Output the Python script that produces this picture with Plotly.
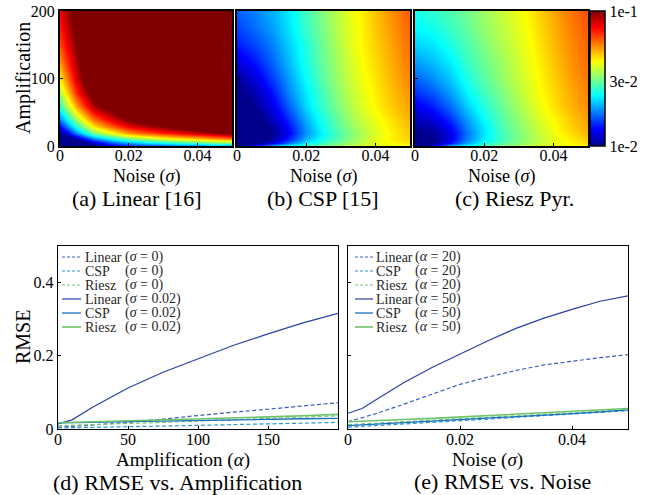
import numpy as np
import plotly.graph_objects as go

# ---------------- heatmap data (log10 of RMSE), rows = amplification, cols = noise
noise_grid = [0.0, 0.005, 0.01, 0.015, 0.02, 0.025, 0.03, 0.035, 0.04, 0.045, 0.05]
amp_grid = [0, 5, 10, 20, 30, 40, 60, 80, 100, 125, 150, 175, 200]

log10_rmse_linear = [
    [-2.40, -2.22, -2.05, -1.90, -1.85, -1.82, -1.80, -1.77, -1.77, -1.74, -1.74],
    [-2.34, -2.13, -1.93, -1.80, -1.72, -1.67, -1.63, -1.59, -1.57, -1.53, -1.50],
    [-2.22, -1.97, -1.76, -1.63, -1.53, -1.47, -1.42, -1.38, -1.34, -1.30, -1.26],
    [-2.01, -1.73, -1.50, -1.38, -1.27, -1.21, -1.16, -1.11, -1.07, -1.02, -0.98],
    [-1.86, -1.57, -1.34, -1.21, -1.10, -1.04, -0.99, -0.94, -0.90, -0.85, -0.80],
    [-1.74, -1.45, -1.22, -1.09, -0.98, -0.92, -0.86, -0.82, -0.77, -0.72, -0.68],
    [-1.57, -1.27, -1.04, -0.92, -0.80, -0.75, -0.69, -0.64, -0.60, -0.55, -0.51],
    [-1.45, -1.15, -0.92, -0.80, -0.68, -0.62, -0.57, -0.52, -0.47, -0.43, -0.38],
    [-1.36, -1.08, -0.84, -0.70, -0.59, -0.52, -0.47, -0.42, -0.38, -0.33, -0.28],
    [-1.27, -1.03, -0.81, -0.60, -0.49, -0.43, -0.37, -0.32, -0.28, -0.23, -0.19],
    [-1.20, -0.99, -0.78, -0.52, -0.41, -0.35, -0.29, -0.24, -0.20, -0.15, -0.11],
    [-1.15, -0.96, -0.75, -0.46, -0.34, -0.28, -0.23, -0.18, -0.13, -0.09, -0.04],
    [-1.11, -0.93, -0.73, -0.40, -0.28, -0.22, -0.17, -0.12, -0.08, -0.03, 0.02],
]

log10_rmse_csp = [
    [-2.10, -1.85, -1.68, -1.60, -1.54, -1.50, -1.46, -1.43, -1.41, -1.39, -1.38],
    [-2.10, -2.02, -1.90, -1.76, -1.64, -1.56, -1.50, -1.45, -1.40, -1.37, -1.35],
    [-2.12, -2.07, -1.98, -1.84, -1.70, -1.60, -1.53, -1.46, -1.40, -1.36, -1.33],
    [-2.12, -2.08, -2.00, -1.88, -1.73, -1.62, -1.54, -1.47, -1.41, -1.36, -1.32],
    [-2.10, -2.06, -1.98, -1.86, -1.72, -1.60, -1.52, -1.45, -1.40, -1.35, -1.31],
    [-2.08, -2.04, -1.95, -1.83, -1.70, -1.59, -1.51, -1.44, -1.39, -1.34, -1.30],
    [-2.05, -2.00, -1.90, -1.78, -1.66, -1.56, -1.49, -1.42, -1.37, -1.32, -1.28],
    [-2.02, -1.96, -1.86, -1.74, -1.64, -1.55, -1.47, -1.41, -1.36, -1.31, -1.27],
    [-1.98, -1.92, -1.82, -1.72, -1.62, -1.53, -1.46, -1.40, -1.35, -1.30, -1.25],
    [-1.92, -1.86, -1.78, -1.69, -1.60, -1.52, -1.45, -1.39, -1.34, -1.29, -1.24],
    [-1.85, -1.81, -1.75, -1.67, -1.59, -1.51, -1.44, -1.38, -1.33, -1.28, -1.23],
    [-1.81, -1.77, -1.72, -1.65, -1.57, -1.50, -1.43, -1.38, -1.32, -1.27, -1.22],
    [-1.78, -1.75, -1.70, -1.64, -1.56, -1.49, -1.43, -1.37, -1.32, -1.26, -1.21],
]

log10_rmse_riesz = [
    [-2.08, -1.90, -1.70, -1.60, -1.54, -1.50, -1.46, -1.43, -1.40, -1.38, -1.37],
    [-2.06, -2.00, -1.86, -1.71, -1.61, -1.54, -1.49, -1.44, -1.40, -1.37, -1.34],
    [-2.05, -2.01, -1.90, -1.75, -1.64, -1.56, -1.50, -1.45, -1.40, -1.36, -1.32],
    [-2.02, -1.99, -1.90, -1.76, -1.65, -1.56, -1.50, -1.44, -1.39, -1.34, -1.30],
    [-1.98, -1.96, -1.87, -1.74, -1.64, -1.55, -1.49, -1.43, -1.38, -1.33, -1.29],
    [-1.95, -1.92, -1.83, -1.72, -1.62, -1.54, -1.48, -1.42, -1.37, -1.32, -1.28],
    [-1.89, -1.85, -1.77, -1.67, -1.59, -1.52, -1.46, -1.40, -1.35, -1.30, -1.26],
    [-1.83, -1.79, -1.72, -1.63, -1.56, -1.50, -1.44, -1.39, -1.34, -1.29, -1.25],
    [-1.78, -1.74, -1.68, -1.60, -1.54, -1.48, -1.43, -1.38, -1.33, -1.28, -1.24],
    [-1.72, -1.69, -1.64, -1.57, -1.52, -1.47, -1.42, -1.37, -1.32, -1.27, -1.23],
    [-1.67, -1.65, -1.60, -1.55, -1.50, -1.45, -1.41, -1.36, -1.31, -1.26, -1.22],
    [-1.63, -1.61, -1.57, -1.53, -1.48, -1.44, -1.40, -1.35, -1.30, -1.25, -1.21],
    [-1.60, -1.58, -1.55, -1.51, -1.47, -1.43, -1.39, -1.34, -1.29, -1.24, -1.20],
]

colorbar_values = [0.01, 0.03, 0.1]
colorbar_labels = ["1e-2", "3e-2", "1e-1"]
heat_ticks_noise = [0, 0.02, 0.04]
heat_ticklabels_noise = ["0", "0.02", "0.04"]
heat_ticks_amp = [0, 100, 200]

# ---------------- line data
amp_x = [0, 10, 25, 50, 75, 100, 125, 150, 175, 200]
rmse_linear_s0 = [0.005, 0.007, 0.011, 0.018, 0.028, 0.038, 0.046, 0.054, 0.062, 0.072]
rmse_csp_s0 = [0.003, 0.0035, 0.0045, 0.006, 0.008, 0.010, 0.012, 0.014, 0.016, 0.018]
rmse_riesz_s0 = [0.009, 0.010, 0.012, 0.015, 0.018, 0.022, 0.025, 0.029, 0.032, 0.036]
rmse_linear_s002 = [0.014, 0.025, 0.060, 0.112, 0.155, 0.192, 0.228, 0.260, 0.290, 0.316]
rmse_csp_s002 = [0.017, 0.017, 0.018, 0.020, 0.022, 0.023, 0.025, 0.026, 0.028, 0.029]
rmse_riesz_s002 = [0.017, 0.018, 0.019, 0.021, 0.024, 0.027, 0.030, 0.033, 0.036, 0.040]

noise_x = [0, 0.0025, 0.005, 0.01, 0.015, 0.02, 0.025, 0.03, 0.035, 0.04, 0.045, 0.05]
rmse_linear_a20 = [0.020, 0.030, 0.042, 0.068, 0.096, 0.122, 0.142, 0.160, 0.175, 0.186, 0.195, 0.203]
rmse_csp_a20 = [0.005, 0.007, 0.009, 0.014, 0.018, 0.023, 0.027, 0.032, 0.036, 0.041, 0.045, 0.050]
rmse_riesz_a20 = [0.012, 0.014, 0.015, 0.019, 0.023, 0.027, 0.031, 0.035, 0.039, 0.044, 0.048, 0.053]
rmse_linear_a50 = [0.043, 0.056, 0.080, 0.127, 0.168, 0.205, 0.241, 0.275, 0.303, 0.327, 0.349, 0.364]
rmse_csp_a50 = [0.009, 0.011, 0.012, 0.016, 0.020, 0.024, 0.028, 0.033, 0.037, 0.042, 0.047, 0.052]
rmse_riesz_a50 = [0.020, 0.021, 0.023, 0.026, 0.029, 0.033, 0.036, 0.040, 0.044, 0.048, 0.052, 0.056]

amp_ticks = [0, 50, 100, 150]
noise_ticks = [0, 0.02, 0.04]
noise_ticklabels = ["0", "0.02", "0.04"]
rmse_ticks = [0, 0.2, 0.4]
rmse_ticklabels = ["0", "0.2", "0.4"]

# ---------------- styling
W, H = 651, 495
FONT = "Liberation Serif, Times New Roman, serif"


def fx(p):
    return p / W


def fy(p):
    return 1 - p / H


jet = [
    [0.0, "rgb(0,0,140)"],
    [0.125, "rgb(0,0,255)"],
    [0.375, "rgb(0,255,255)"],
    [0.625, "rgb(255,255,0)"],
    [0.875, "rgb(255,0,0)"],
    [1.0, "rgb(128,0,0)"],
]

c_lin_solid = "rgb(45,65,165)"
c_lin_dash = "rgb(60,90,195)"
c_csp_solid = "rgb(25,110,190)"
c_csp_dash = "rgb(45,150,215)"
c_rz_solid = "rgb(110,195,105)"
c_rz_dash = "rgb(120,200,120)"

fig = go.Figure()

for i, z in enumerate([log10_rmse_linear, log10_rmse_csp, log10_rmse_riesz]):
    sfx = "" if i == 0 else str(i + 1)
    fig.add_trace(go.Heatmap(
        x=noise_grid, y=amp_grid, z=z, zsmooth="best",
        coloraxis="coloraxis", xaxis="x" + sfx, yaxis="y" + sfx,
    ))

series_d = [
    ("Linear", "(<i>σ</i> = 0)", rmse_linear_s0, c_lin_dash, "dash", 1.2),
    ("CSP", "(<i>σ</i> = 0)", rmse_csp_s0, c_csp_dash, "dash", 1.2),
    ("Riesz", "(<i>σ</i> = 0)", rmse_riesz_s0, c_rz_dash, "dash", 1.2),
    ("Linear", "(<i>σ</i> = 0.02)", rmse_linear_s002, c_lin_solid, "solid", 1.2),
    ("CSP", "(<i>σ</i> = 0.02)", rmse_csp_s002, c_csp_solid, "solid", 1.3),
    ("Riesz", "(<i>σ</i> = 0.02)", rmse_riesz_s002, c_rz_solid, "solid", 1.6),
]
series_e = [
    ("Linear", "(<i>α</i> = 20)", rmse_linear_a20, c_lin_dash, "dash", 1.2),
    ("CSP", "(<i>α</i> = 20)", rmse_csp_a20, c_csp_dash, "dash", 1.2),
    ("Riesz", "(<i>α</i> = 20)", rmse_riesz_a20, c_rz_dash, "dash", 1.2),
    ("Linear", "(<i>α</i> = 50)", rmse_linear_a50, c_lin_solid, "solid", 1.2),
    ("CSP", "(<i>α</i> = 50)", rmse_csp_a50, c_csp_solid, "solid", 1.3),
    ("Riesz", "(<i>α</i> = 50)", rmse_riesz_a50, c_rz_solid, "solid", 1.6),
]

for xs, series, ax in [(amp_x, series_d, "4"), (noise_x, series_e, "5")]:
    for name, par, ys, col, dash, w in series:
        fig.add_trace(go.Scatter(
            x=xs, y=ys, mode="lines", name=name + " " + par,
            line=dict(color=col, width=w, dash="4px,2.5px" if dash == "dash" else "solid"),
            xaxis="x" + ax, yaxis="y" + ax, showlegend=False,
        ))

frame = dict(showline=True, linecolor="black", mirror=True, showgrid=False, zeroline=False,
             ticks="inside", tickcolor="black", ticklen=3, automargin=False)
tickfont_h = dict(family=FONT, size=16, color="black")
tickfont_b = dict(family=FONT, size=16, color="black")

heat_x = [(60, 232), (237, 410), (415, 588)]
layout = dict(
    template="none",
    width=W, height=H, margin=dict(l=0, r=0, t=0, b=0, pad=0, autoexpand=False),
    paper_bgcolor="white", plot_bgcolor="white",
    font=dict(family=FONT, color="black"),
    showlegend=False,
    coloraxis=dict(
        colorscale=jet, cmin=-2, cmax=-1,
        colorbar=dict(
            x=fx(590), xanchor="left", y=fy(11), yanchor="top",
            len=135 / H, lenmode="fraction", thickness=15, thicknessmode="pixels",
            xpad=0, ypad=0, outlinewidth=1.5, outlinecolor="black",
            tickvals=[float(np.log10(v)) for v in colorbar_values], ticktext=colorbar_labels,
            ticks="", tickfont=dict(family=FONT, size=16, color="black"),
        ),
    ),
)
for i, (x0, x1) in enumerate(heat_x):
    sfx = "" if i == 0 else str(i + 1)
    layout["xaxis" + sfx] = dict(frame, domain=[fx(x0), fx(x1)], anchor="y" + sfx,
                                 range=[0, 0.05], tickvals=heat_ticks_noise,
                                 ticktext=heat_ticklabels_noise, tickfont=tickfont_h,
                                 linewidth=2, ticklabelstandoff=-6)
    layout["yaxis" + sfx] = dict(frame, domain=[fy(146), fy(11)], anchor="x" + sfx,
                                 range=[0, 200], tickvals=heat_ticks_amp,
                                 showticklabels=(i == 0), tickfont=tickfont_h,
                                 linewidth=2)

layout["xaxis4"] = dict(frame, domain=[fx(58), fx(338)], anchor="y4", range=[0, 200],
                        tickvals=amp_ticks, tickfont=tickfont_b, linewidth=1.3,
                        ticklabelstandoff=-5)
layout["yaxis4"] = dict(frame, domain=[fy(429), fy(246)], anchor="x4", range=[0, 0.5],
                        tickvals=rmse_ticks, ticktext=rmse_ticklabels, tickfont=tickfont_b,
                        linewidth=1.3)
layout["xaxis5"] = dict(frame, domain=[fx(348), fx(628)], anchor="y5", range=[0, 0.05],
                        tickvals=noise_ticks, ticktext=noise_ticklabels, tickfont=tickfont_b,
                        linewidth=1.3, ticklabelstandoff=-5)
layout["yaxis5"] = dict(frame, domain=[fy(429), fy(246)], anchor="x5", range=[0, 0.5],
                        tickvals=rmse_ticks, showticklabels=False, linewidth=1.3)

fig.update_layout(**layout)

ann = []


def text(x, y, s, size, angle=0, xanchor="center"):
    ann.append(dict(x=fx(x), y=fy(y), xref="paper", yref="paper", text=s, showarrow=False,
                    textangle=angle, xanchor=xanchor, yanchor="middle",
                    font=dict(family=FONT, size=size, color="black")))


text(23, 78, "Amplification", 20, angle=-90)
for cx in (146, 323, 501):
    text(cx, 176, "Noise (<i>σ</i>)", 18)
text(136, 199, "(a) Linear [16]", 22)
text(323, 199, "(b) CSP [15]", 22)
text(514, 199, "(c) Riesz Pyr.", 22)

text(23, 337, "RMSE", 20, angle=-90)
text(183, 460, "Amplification (<i>α</i>)", 19)
text(487, 460, "Noise (<i>σ</i>)", 19)
text(177, 482, "(d) RMSE vs. Amplification", 22)
text(502, 481, "(e) RMSE vs. Noise", 22)

shapes = []
for series, sx0, sx1, nx, px_ in [(series_d, 62, 81, 83, 123), (series_e, 355, 373, 374, 413)]:
    for k, (name, par, ys, col, dash, w) in enumerate(series):
        yy = 257 + 14 * k
        shapes.append(dict(type="line", xref="paper", yref="paper",
                           x0=fx(sx0), x1=fx(sx1), y0=fy(yy), y1=fy(yy),
                           line=dict(color=col, width=w, dash="3px,2px" if dash == "dash" else "solid")))
        ann.append(dict(x=fx(nx), y=fy(yy), xref="paper", yref="paper", text=name,
                        showarrow=False, xanchor="left", yanchor="middle",
                        font=dict(family=FONT, size=14, color="rgb(40,40,40)")))
        ann.append(dict(x=fx(px_), y=fy(yy), xref="paper", yref="paper", text=par,
                        showarrow=False, xanchor="left", yanchor="middle",
                        font=dict(family=FONT, size=14, color="rgb(40,40,40)")))

fig.update_layout(annotations=ann, shapes=shapes)
# the page's default 8px body margin would push the 651x495 figure off the window
fig.write_html("out.html",
               config={"staticPlot": True, "displayModeBar": False},
               post_script="document.body.style.margin='0px';document.body.style.overflow='hidden';")
